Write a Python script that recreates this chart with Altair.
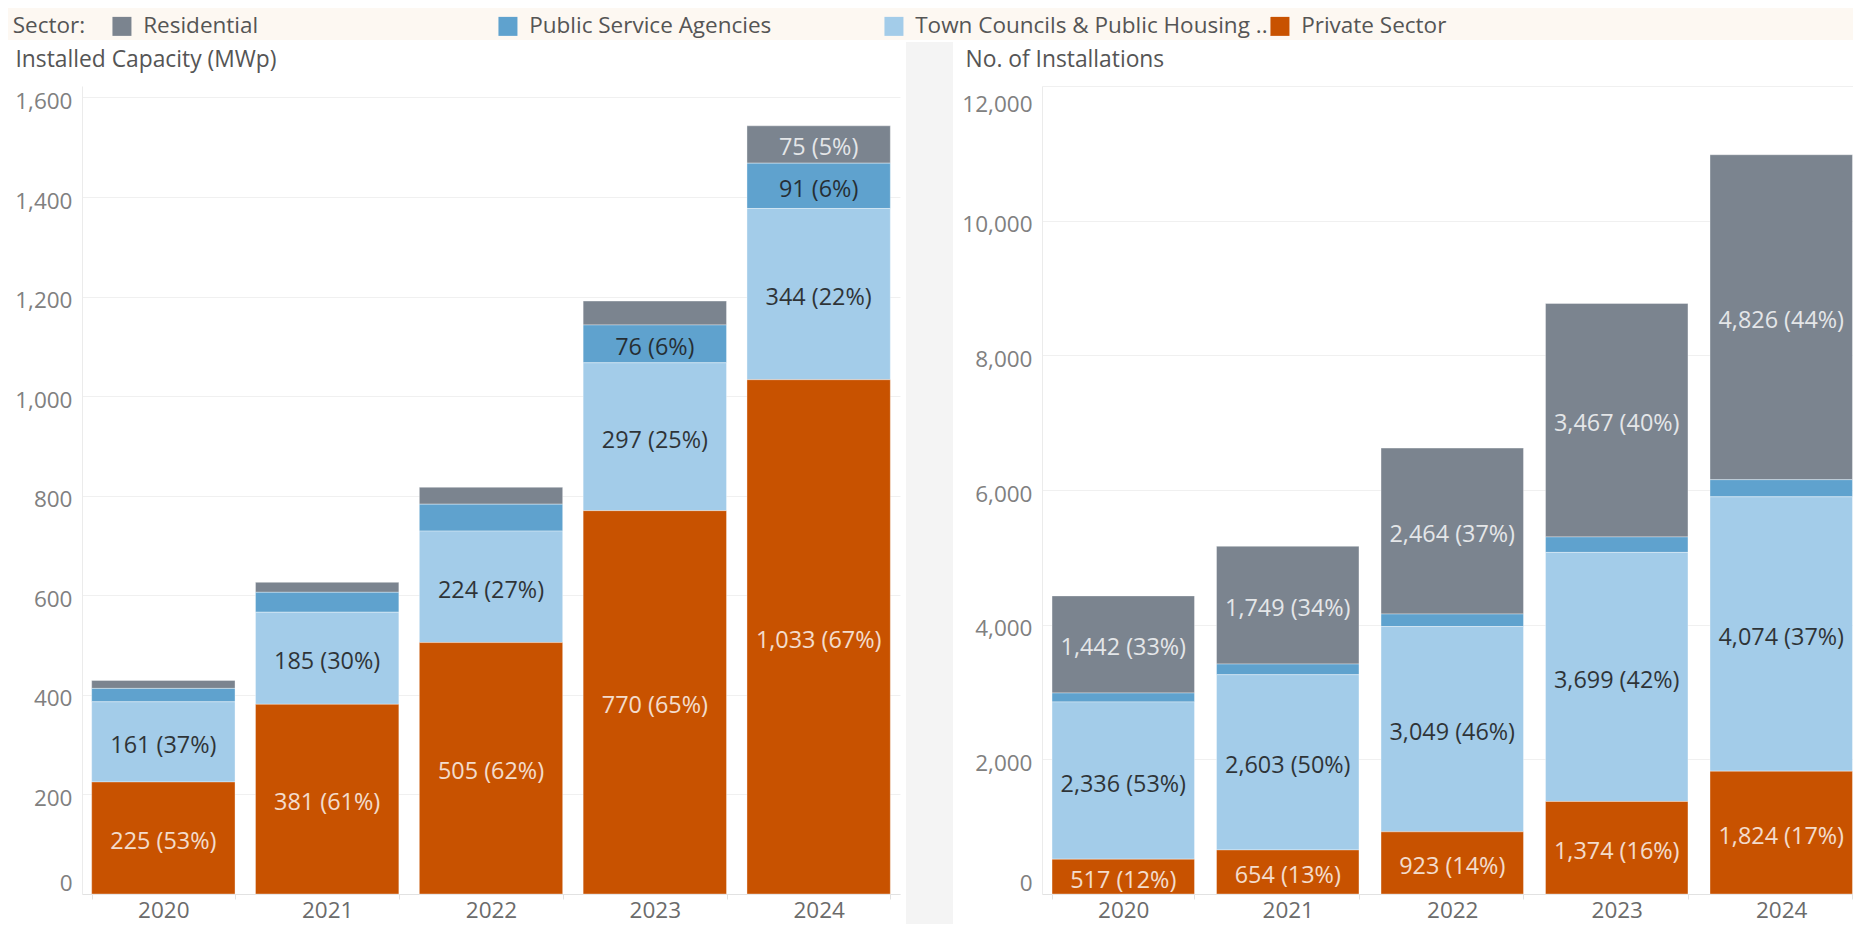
import altair as alt
import pandas as pd

FONT = "Open Sans"

years = ["2020", "2021", "2022", "2023", "2024"]
sectors = ["Residential", "Public Service Agencies", "Town Councils & Public Housing ..", "Private Sector"]
sector_colors = ["#7b848f", "#5fa2ce", "#a3cce9", "#c85200"]
stack_order = [3, 2, 1, 0]  # Private Sector at the bottom of each bar

# Installed capacity (MWp)
cap_residential = [16, 20, 34, 48, 75]
cap_psa = [27, 40, 54, 76, 91]
cap_town = [161, 185, 224, 297, 344]
cap_private = [225, 381, 505, 770, 1033]
cap_res_pct = [None, None, None, None, 5]
cap_psa_pct = [None, None, None, 6, 6]
cap_town_pct = [37, 30, 27, 25, 22]
cap_private_pct = [53, 61, 62, 65, 67]

# Number of installations
inst_residential = [1442, 1749, 2464, 3467, 4826]
inst_psa = [132, 158, 186, 230, 255]
inst_town = [2336, 2603, 3049, 3699, 4074]
inst_private = [517, 654, 923, 1374, 1824]
inst_res_pct = [33, 34, 37, 40, 44]
inst_psa_pct = [None, None, None, None, None]
inst_town_pct = [53, 50, 46, 42, 37]
inst_private_pct = [12, 13, 14, 16, 17]

cap_ticks = [0, 200, 400, 600, 800, 1000, 1200, 1400, 1600]
inst_ticks = [0, 2000, 4000, 6000, 8000, 10000, 12000]


def build(values, pcts):
    rows = []
    for s, o, vals, ps in zip(sectors, stack_order, values, pcts):
        for y, v, p in zip(years, vals, ps):
            rows.append({
                "year": y, "sector": s, "value": v, "order": o,
                "label": f"{v:,} ({p}%)" if p is not None else "",
            })
    return pd.DataFrame(rows)


cap_df = build([cap_residential, cap_psa, cap_town, cap_private],
               [cap_res_pct, cap_psa_pct, cap_town_pct, cap_private_pct])
inst_df = build([inst_residential, inst_psa, inst_town, inst_private],
                [inst_res_pct, inst_psa_pct, inst_town_pct, inst_private_pct])

ROW_TOP = 42
PLOT_H = 894 - ROW_TOP      # full panel height (title lives inside, above the scale range)
RANGE_TOP = 86 - ROW_TOP    # where the top of the value scale starts


def panel(df, title, title_x, ymax, yticks, width, axis_x, pad_inner, pad_outer):
    base = alt.Chart(df).transform_stack(
        stack="value", groupby=["year"],
        sort=[alt.SortField("order", order="ascending")], as_=["v0", "v1"]
    ).transform_calculate(mid="(datum.v0 + datum.v1) / 2")

    x_axis = alt.Axis(labelAngle=0, labelFont=FONT, labelFontSize=22.5, labelColor="#6b6b6b",
                      labelPadding=0, ticks=True, tickBand="extent", tickSize=5,
                      tickColor="#e2e2e2", domainColor="#e2e2e2", grid=False)
    y_axis = alt.Axis(values=yticks, format=",d", labelFont=FONT, labelFontSize=22.5,
                      labelColor="#808080", labelPadding=10, ticks=False,
                      domainColor="#ebebeb", gridColor="#f0f0f0", labelFlush=True,
                      labelOffset=4, labelFlushOffset=-3, offset=-axis_x,
                      minExtent=0, maxExtent=200,
                      titleAngle=0, titleAlign="left", titleBaseline="alphabetic",
                      titleX=title_x - axis_x, titleY=66.7 - ROW_TOP,
                      titleFont=FONT, titleFontSize=22.8, titleFontWeight="normal",
                      titleColor="#555555")

    x = alt.X("year:N", title=None, sort=years,
              scale=alt.Scale(range=[axis_x, width], paddingInner=pad_inner, paddingOuter=pad_outer),
              axis=x_axis)
    y_scale = alt.Scale(domain=[0, ymax], range=[PLOT_H, RANGE_TOP], nice=False, zero=True)

    bars = base.mark_bar(stroke="white", strokeWidth=1, strokeOpacity=0.35).encode(
        x=x,
        y=alt.Y("v0:Q", title=title, scale=y_scale, axis=y_axis),
        y2="v1:Q",
        color=alt.Color("sector:N", scale=alt.Scale(domain=sectors, range=sector_colors),
                        legend=None),
    )
    dark = base.transform_filter(
        alt.FieldOneOfPredicate(field="sector", oneOf=[sectors[1], sectors[2]])
    ).transform_filter("datum.label != ''").mark_text(
        font=FONT, fontSize=23.4, color="#1e1e1e", opacity=0.88, dy=4
    ).encode(x=alt.X("year:N", sort=years), y=alt.Y("mid:Q", title=title), text="label:N")
    light = base.transform_filter(
        alt.FieldOneOfPredicate(field="sector", oneOf=[sectors[0], sectors[3]])
    ).transform_filter("datum.label != ''").mark_text(
        font=FONT, fontSize=23.4, color="#ffffff", opacity=0.8, dy=4
    ).encode(x=alt.X("year:N", sort=years), y=alt.Y("mid:Q", title=title), text="label:N")

    return alt.layer(bars, dark, light).properties(width=width, height=PLOT_H)


left = panel(cap_df, "Installed Capacity (MWp)", 15, 1623, cap_ticks, 900, 82, 0.125, 0.059)
right = panel(inst_df, "No. of Installations", 6, 12000, inst_ticks, 903.5, 83, 0.134, 0.061)

divider = alt.Chart(alt.Data(values=[])).mark_point().properties(
    width=47, height=930 - ROW_TOP, view=alt.ViewBackground(fill="#f4f4f4", stroke=None)
)

strip = alt.Chart(pd.DataFrame({"sector": sectors})).transform_filter("false").mark_square().encode(
    color=alt.Color(
        "sector:N",
        scale=alt.Scale(domain=sectors, range=sector_colors),
        legend=alt.Legend(
            title="Sector:", orient="none", legendX=12.7, legendY=15, direction="horizontal",
            columns=4, gridAlign="all", columnPadding=1, padding=0,
            titleOrient="left", titleFont=FONT, titleFontSize=22.5, titleFontWeight="normal",
            titleColor="#555555", titlePadding=25,
            labelFont=FONT, labelFontSize=22.5, labelColor="#555555", labelLimit=600, labelOffset=10,
            symbolType="square", symbolSize=361, symbolStrokeWidth=0, symbolOpacity=1,
        ),
    )
).properties(width=1863, height=40, view=alt.ViewBackground(fill="#fdf8f2", stroke=None))

row = alt.hconcat(left, divider, right, spacing=6)
chart = alt.vconcat(strip, row, spacing=ROW_TOP - 40).resolve_scale(color="independent").properties(
    padding={"left": -8, "top": -8, "right": -10, "bottom": -6},
    background="white",
).configure(font=FONT).configure_view(stroke=None)

chart.save("out.html", embed_options={"renderer": "svg", "actions": False})
